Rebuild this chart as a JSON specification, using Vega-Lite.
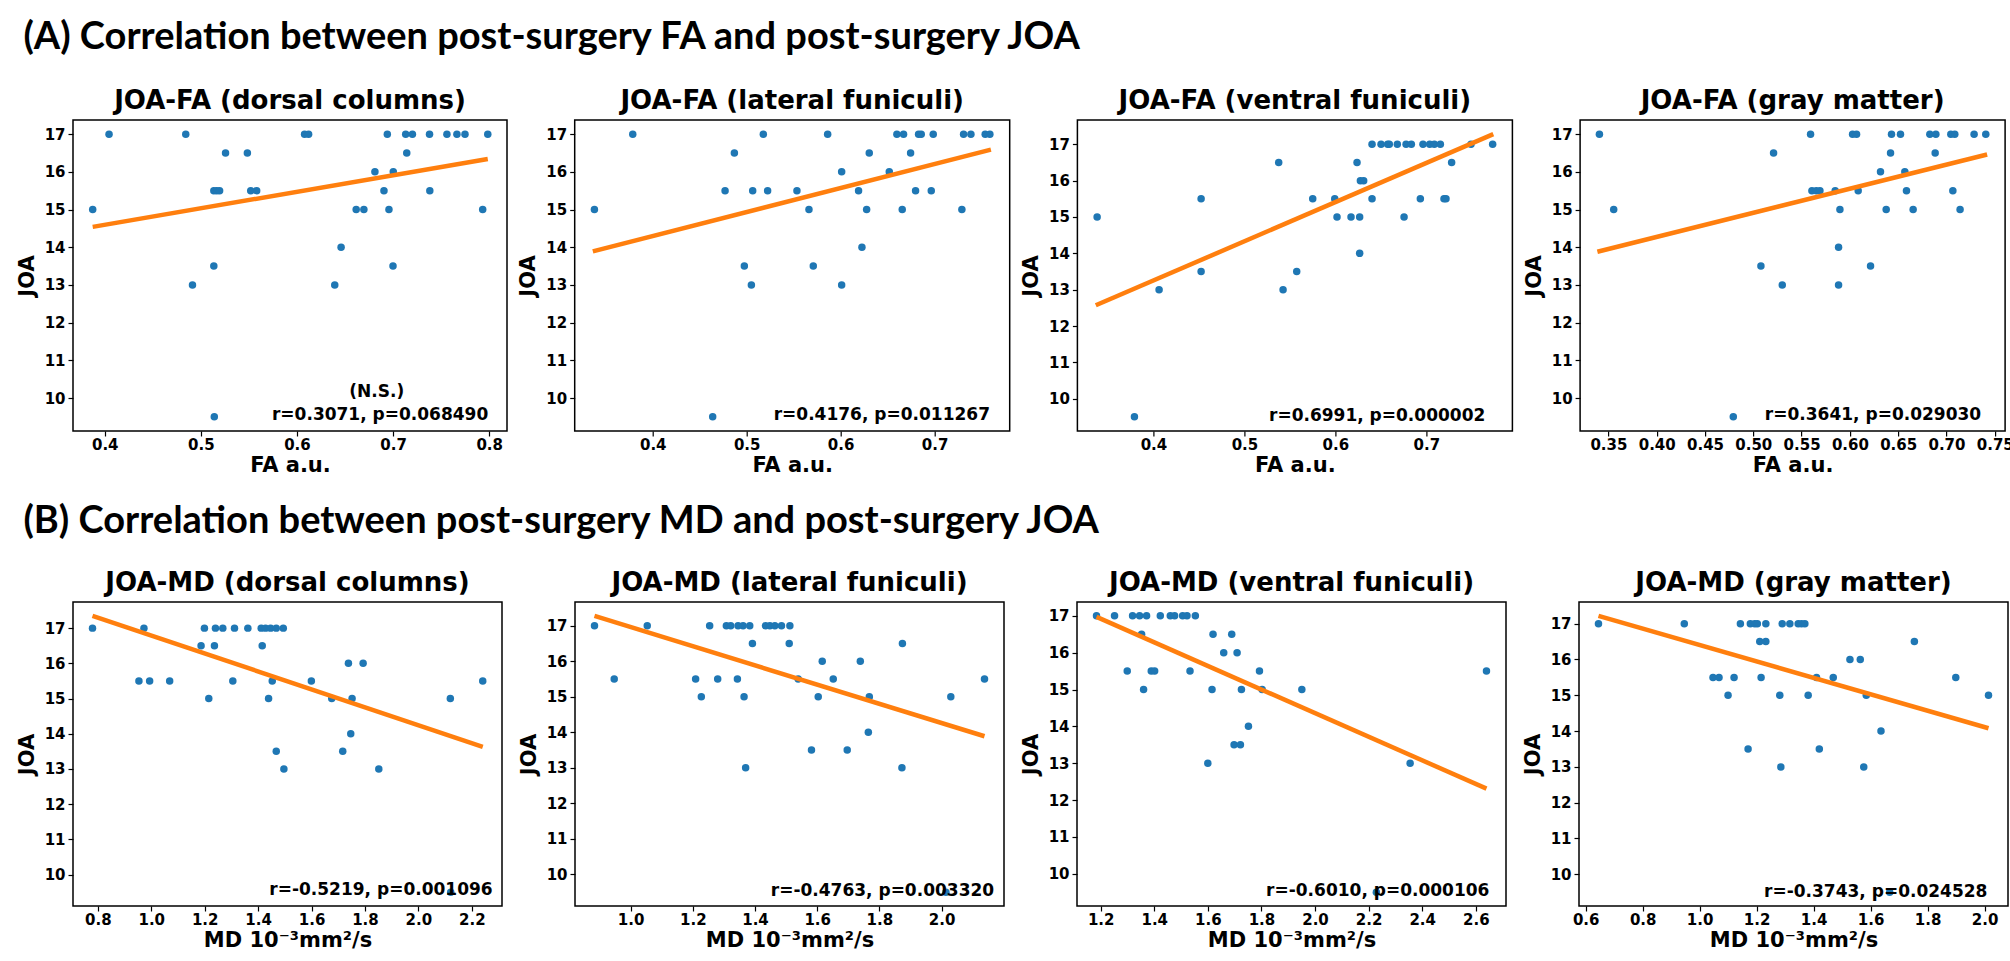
{
  "$schema": "https://vega.github.io/schema/vega-lite/v6.json",
  "background": "white",
  "padding": {"left": 15, "top": 19, "right": 0, "bottom": 0},
  "config": {
    "view": {"stroke": "black", "strokeWidth": 1.5},
    "title": {"font": "DejaVu Sans", "fontWeight": "bold", "fontSize": 26, "color": "black", "offset": 6},
    "axis": {"labelFont": "DejaVu Sans", "labelFontWeight": "bold", "labelFontSize": 15, "labelColor": "black", "titleFont": "DejaVu Sans", "titleFontWeight": "bold", "titleFontSize": 21, "titleColor": "black", "tickColor": "black", "tickSize": 5, "tickWidth": 1.2, "grid": false, "domain": false, "labelPadding": 2, "labelFlush": false, "labelOverlap": false},
    "axisY": {"titlePadding": 7, "labelPadding": 3},
    "axisX": {"titlePadding": 2, "labelPadding": 1},
    "circle": {"color": "#1f77b4", "size": 56, "opacity": 1},
    "line": {"color": "#ff7f0e", "strokeWidth": 4.5},
    "text": {"font": "DejaVu Sans", "fontWeight": "bold", "fontSize": 17, "color": "black"}
  },
  "spacing": 27,
  "vconcat": [
    {
      "title": {"text": "(A) Correlation between post-surgery FA and post-surgery JOA", "anchor": "start", "font": "Lato", "fontSize": 38, "fontWeight": "bold", "offset": 30, "dx": 8},
      "bounds": "flush",
      "spacing": 67.7,
      "hconcat": [
        {
          "width": 434, "height": 311,
          "title": "JOA-FA (dorsal columns)",
          "layer": [
            {"data": {"values": [
              {"fa":0.3875,"joa":15},{"fa":0.4045,"joa":17},{"fa":0.4843,"joa":17},{"fa":0.4913,"joa":13},{"fa":0.5135,"joa":15.5},{"fa":0.5165,"joa":15.5},{"fa":0.5195,"joa":15.5},{"fa":0.5135,"joa":13.5},{"fa":0.5257,"joa":16.5},{"fa":0.5484,"joa":16.5},{"fa":0.5519,"joa":15.5},{"fa":0.5581,"joa":15.5},{"fa":0.6079,"joa":17},{"fa":0.6121,"joa":17},{"fa":0.6393,"joa":13},{"fa":0.6459,"joa":14},{"fa":0.6616,"joa":15},{"fa":0.6696,"joa":15},{"fa":0.6811,"joa":16},{"fa":0.6905,"joa":15.5},{"fa":0.694,"joa":17},{"fa":0.6957,"joa":15},{"fa":0.7002,"joa":16},{"fa":0.6999,"joa":13.5},{"fa":0.7142,"joa":16.5},{"fa":0.7131,"joa":17},{"fa":0.7201,"joa":17},{"fa":0.7379,"joa":17},{"fa":0.7382,"joa":15.5},{"fa":0.756,"joa":17},{"fa":0.7664,"joa":17},{"fa":0.7748,"joa":17},{"fa":0.7932,"joa":15},{"fa":0.7985,"joa":17},{"fa":0.514,"joa":9.5}
            ]},
             "mark": "circle",
             "encoding": {
               "x": {"field": "fa", "type": "quantitative", "scale": {"domain": [0.367, 0.8185], "nice": false, "zero": false}, "axis": {"values": [0.4,0.5,0.6,0.7,0.8], "format": ".1f", "title": "FA a.u."}},
               "y": {"field": "joa", "type": "quantitative", "scale": {"domain": [9.125, 17.375], "nice": false, "zero": false}, "axis": {"values": [10,11,12,13,14,15,16,17], "title": "JOA"}}
             }},
            {"data": {"values": [{"fa":0.3875,"joa":14.54},{"fa":0.7985,"joa":16.34}]},
             "mark": "line",
             "encoding": {"x": {"field": "fa", "type": "quantitative"}, "y": {"field": "joa", "type": "quantitative"}}},
            {"data": {"values": [{"label": "r=0.3071, p=0.068490"}]},
             "mark": {"type": "text", "align": "right", "baseline": "middle"},
             "encoding": {"x": {"datum": 0.799, "type": "quantitative"}, "y": {"datum": 9.54, "type": "quantitative"}, "text": {"field": "label"}}},
            {"data": {"values": [{"label": "(N.S.)"}]},
             "mark": {"type": "text", "align": "center", "baseline": "middle"},
             "encoding": {"x": {"datum": 0.683, "type": "quantitative"}, "y": {"datum": 10.16, "type": "quantitative"}, "text": {"field": "label"}}}
          ]
        },
        {
          "width": 435, "height": 311,
          "title": "JOA-FA (lateral funiculi)",
          "layer": [
            {"data": {"values": [
              {"fa":0.3379,"joa":15},{"fa":0.3787,"joa":17},{"fa":0.477,"joa":15.5},{"fa":0.4869,"joa":16.5},{"fa":0.4975,"joa":13.5},{"fa":0.505,"joa":13},{"fa":0.5064,"joa":15.5},{"fa":0.5177,"joa":17},{"fa":0.5223,"joa":15.5},{"fa":0.5535,"joa":15.5},{"fa":0.5663,"joa":15},{"fa":0.5709,"joa":13.5},{"fa":0.5862,"joa":17},{"fa":0.6011,"joa":16},{"fa":0.6011,"joa":13},{"fa":0.6191,"joa":15.5},{"fa":0.6227,"joa":14},{"fa":0.6277,"joa":15},{"fa":0.6305,"joa":16.5},{"fa":0.6518,"joa":16},{"fa":0.6599,"joa":17},{"fa":0.667,"joa":17},{"fa":0.6656,"joa":15},{"fa":0.6745,"joa":16.5},{"fa":0.6798,"joa":15.5},{"fa":0.683,"joa":17},{"fa":0.6858,"joa":17},{"fa":0.6965,"joa":15.5},{"fa":0.6986,"joa":17},{"fa":0.7291,"joa":15},{"fa":0.7309,"joa":17},{"fa":0.7387,"joa":17},{"fa":0.7539,"joa":17},{"fa":0.7589,"joa":17},{"fa":0.4638,"joa":9.5}
            ]},
             "mark": "circle",
             "encoding": {
               "x": {"field": "fa", "type": "quantitative", "scale": {"domain": [0.3169, 0.78], "nice": false, "zero": false}, "axis": {"values": [0.4,0.5,0.6,0.7], "format": ".1f", "title": "FA a.u."}},
               "y": {"field": "joa", "type": "quantitative", "scale": {"domain": [9.125, 17.375], "nice": false, "zero": false}, "axis": {"values": [10,11,12,13,14,15,16,17], "title": "JOA"}}
             }},
            {"data": {"values": [{"fa":0.3362,"joa":13.89},{"fa":0.76,"joa":16.59}]},
             "mark": "line",
             "encoding": {"x": {"field": "fa", "type": "quantitative"}, "y": {"field": "joa", "type": "quantitative"}}},
            {"data": {"values": [{"label": "r=0.4176, p=0.011267"}]},
             "mark": {"type": "text", "align": "right", "baseline": "middle"},
             "encoding": {"x": {"datum": 0.759, "type": "quantitative"}, "y": {"datum": 9.54, "type": "quantitative"}, "text": {"field": "label"}}}
          ]
        },
        {
          "width": 435, "height": 311,
          "title": "JOA-FA (ventral funiculi)",
          "layer": [
            {"data": {"values": [
              {"fa":0.3381,"joa":15},{"fa":0.4062,"joa":13},{"fa":0.4524,"joa":15.5},{"fa":0.4524,"joa":13.5},{"fa":0.5377,"joa":16.5},{"fa":0.5425,"joa":13},{"fa":0.5575,"joa":13.5},{"fa":0.5751,"joa":15.5},{"fa":0.5993,"joa":15.5},{"fa":0.6018,"joa":15},{"fa":0.6172,"joa":15},{"fa":0.6238,"joa":16.5},{"fa":0.6267,"joa":15},{"fa":0.6267,"joa":14},{"fa":0.6275,"joa":16},{"fa":0.6311,"joa":16},{"fa":0.6403,"joa":17},{"fa":0.6403,"joa":15.5},{"fa":0.6502,"joa":17},{"fa":0.6575,"joa":17},{"fa":0.6593,"joa":17},{"fa":0.6681,"joa":17},{"fa":0.6755,"joa":15},{"fa":0.6777,"joa":17},{"fa":0.6835,"joa":17},{"fa":0.6934,"joa":15.5},{"fa":0.6963,"joa":17},{"fa":0.7037,"joa":17},{"fa":0.7088,"joa":17},{"fa":0.7154,"joa":17},{"fa":0.7194,"joa":15.5},{"fa":0.7216,"joa":15.5},{"fa":0.7278,"joa":16.5},{"fa":0.7491,"joa":17},{"fa":0.7729,"joa":17},{"fa":0.3791,"joa":9.5}
            ]},
             "mark": "circle",
             "encoding": {
               "x": {"field": "fa", "type": "quantitative", "scale": {"domain": [0.3164, 0.7946], "nice": false, "zero": false}, "axis": {"values": [0.4,0.5,0.6,0.7], "format": ".1f", "title": "FA a.u."}},
               "y": {"field": "joa", "type": "quantitative", "scale": {"domain": [9.111, 17.669], "nice": false, "zero": false}, "axis": {"values": [10,11,12,13,14,15,16,17], "title": "JOA"}}
             }},
            {"data": {"values": [{"fa":0.3366,"joa":12.57},{"fa":0.7736,"joa":17.28}]},
             "mark": "line",
             "encoding": {"x": {"field": "fa", "type": "quantitative"}, "y": {"field": "joa", "type": "quantitative"}}},
            {"data": {"values": [{"label": "r=0.6991, p=0.000002"}]},
             "mark": {"type": "text", "align": "right", "baseline": "middle"},
             "encoding": {"x": {"datum": 0.7648, "type": "quantitative"}, "y": {"datum": 9.53, "type": "quantitative"}, "text": {"field": "label"}}}
          ]
        },
        {
          "width": 425, "height": 311,
          "title": "JOA-FA (gray matter)",
          "layer": [
            {"data": {"values": [
              {"fa":0.3407,"joa":17},{"fa":0.3555,"joa":15},{"fa":0.5079,"joa":13.5},{"fa":0.521,"joa":16.5},{"fa":0.53,"joa":13},{"fa":0.5593,"joa":17},{"fa":0.5607,"joa":15.5},{"fa":0.5652,"joa":15.5},{"fa":0.569,"joa":15.5},{"fa":0.5848,"joa":15.5},{"fa":0.5883,"joa":14},{"fa":0.5883,"joa":13},{"fa":0.5897,"joa":15},{"fa":0.6028,"joa":17},{"fa":0.6069,"joa":17},{"fa":0.6086,"joa":15.5},{"fa":0.6214,"joa":13.5},{"fa":0.6317,"joa":16},{"fa":0.6376,"joa":15},{"fa":0.6421,"joa":16.5},{"fa":0.6431,"joa":17},{"fa":0.6524,"joa":17},{"fa":0.6569,"joa":16},{"fa":0.6586,"joa":15.5},{"fa":0.6655,"joa":15},{"fa":0.6828,"joa":17},{"fa":0.689,"joa":17},{"fa":0.6883,"joa":16.5},{"fa":0.7045,"joa":17},{"fa":0.7086,"joa":17},{"fa":0.7066,"joa":15.5},{"fa":0.7141,"joa":15},{"fa":0.7286,"joa":17},{"fa":0.7407,"joa":17},{"fa":0.4793,"joa":9.5}
            ]},
             "mark": "circle",
             "encoding": {
               "x": {"field": "fa", "type": "quantitative", "scale": {"domain": [0.3207, 0.7607], "nice": false, "zero": false}, "axis": {"values": [0.35,0.4,0.45,0.5,0.55,0.6,0.65,0.7,0.75], "format": ".2f", "title": "FA a.u."}},
               "y": {"field": "joa", "type": "quantitative", "scale": {"domain": [9.125, 17.375], "nice": false, "zero": false}, "axis": {"values": [10,11,12,13,14,15,16,17], "title": "JOA"}}
             }},
            {"data": {"values": [{"fa":0.3386,"joa":13.88},{"fa":0.7421,"joa":16.46}]},
             "mark": "line",
             "encoding": {"x": {"field": "fa", "type": "quantitative"}, "y": {"field": "joa", "type": "quantitative"}}},
            {"data": {"values": [{"label": "r=0.3641, p=0.029030"}]},
             "mark": {"type": "text", "align": "right", "baseline": "middle"},
             "encoding": {"x": {"datum": 0.7359, "type": "quantitative"}, "y": {"datum": 9.54, "type": "quantitative"}, "text": {"field": "label"}}}
          ]
        }
      ]
    },
    {
      "title": {"text": "(B) Correlation between post-surgery MD and post-surgery JOA", "anchor": "start", "font": "Lato", "fontSize": 38, "fontWeight": "bold", "offset": 28, "dx": 8},
      "bounds": "flush",
      "spacing": 73,
      "hconcat": [
        {
          "width": 429, "height": 304,
          "title": "JOA-MD (dorsal columns)",
          "layer": [
            {"data": {"values": [
              {"md":0.78,"joa":17},{"md":0.9538,"joa":15.5},{"md":0.9726,"joa":17},{"md":0.9939,"joa":15.5},{"md":1.0689,"joa":15.5},{"md":1.1865,"joa":16.5},{"md":1.199,"joa":17},{"md":1.2153,"joa":15},{"md":1.2365,"joa":16.5},{"md":1.2403,"joa":17},{"md":1.2678,"joa":17},{"md":1.3053,"joa":15.5},{"md":1.3116,"joa":17},{"md":1.3616,"joa":17},{"md":1.4116,"joa":17},{"md":1.4154,"joa":16.5},{"md":1.4279,"joa":17},{"md":1.4392,"joa":15},{"md":1.4467,"joa":17},{"md":1.4529,"joa":15.5},{"md":1.4679,"joa":17},{"md":1.4942,"joa":17},{"md":1.4679,"joa":13.5},{"md":1.4965,"joa":13},{"md":1.5993,"joa":15.5},{"md":1.6756,"joa":15},{"md":1.7168,"joa":13.5},{"md":1.7381,"joa":16},{"md":1.7468,"joa":14},{"md":1.7518,"joa":15},{"md":1.7931,"joa":16},{"md":1.8518,"joa":13},{"md":2.1196,"joa":15},{"md":2.2409,"joa":15.5},{"md":2.121,"joa":9.5}
            ]},
             "mark": "circle",
             "encoding": {
               "x": {"field": "md", "type": "quantitative", "scale": {"domain": [0.707, 2.313], "nice": false, "zero": false}, "axis": {"values": [0.8,1.0,1.2,1.4,1.6,1.8,2.0,2.2], "format": ".1f", "title": "MD 10⁻³mm²/s"}},
               "y": {"field": "joa", "type": "quantitative", "scale": {"domain": [9.108, 17.742], "nice": false, "zero": false}, "axis": {"values": [10,11,12,13,14,15,16,17], "title": "JOA"}}
             }},
            {"data": {"values": [{"md":0.78,"joa":17.35},{"md":2.241,"joa":13.63}]},
             "mark": "line",
             "encoding": {"x": {"field": "md", "type": "quantitative"}, "y": {"field": "joa", "type": "quantitative"}}},
            {"data": {"values": [{"label": "r=-0.5219, p=0.001096"}]},
             "mark": {"type": "text", "align": "right", "baseline": "middle"},
             "encoding": {"x": {"datum": 2.278, "type": "quantitative"}, "y": {"datum": 9.56, "type": "quantitative"}, "text": {"field": "label"}}}
          ]
        },
        {
          "width": 429, "height": 304,
          "title": "JOA-MD (lateral funiculi)",
          "layer": [
            {"data": {"values": [
              {"md":0.884,"joa":17},{"md":0.9474,"joa":15.5},{"md":1.0536,"joa":17},{"md":1.2092,"joa":15.5},{"md":1.2275,"joa":15},{"md":1.2543,"joa":17},{"md":1.2801,"joa":15.5},{"md":1.308,"joa":17},{"md":1.322,"joa":17},{"md":1.3456,"joa":17},{"md":1.3617,"joa":17},{"md":1.3832,"joa":17},{"md":1.3435,"joa":15.5},{"md":1.3649,"joa":15},{"md":1.3918,"joa":16.5},{"md":1.37,"joa":13},{"md":1.4338,"joa":17},{"md":1.4478,"joa":17},{"md":1.4639,"joa":17},{"md":1.4853,"joa":17},{"md":1.5122,"joa":17},{"md":1.5101,"joa":16.5},{"md":1.539,"joa":15.5},{"md":1.5817,"joa":13.5},{"md":1.6034,"joa":15},{"md":1.6163,"joa":16},{"md":1.6517,"joa":15.5},{"md":1.6966,"joa":13.5},{"md":1.7387,"joa":16},{"md":1.7645,"joa":14},{"md":1.7677,"joa":15},{"md":1.8741,"joa":16.5},{"md":1.8725,"joa":13},{"md":2.0297,"joa":15},{"md":2.138,"joa":15.5},{"md":2.014,"joa":9.5}
            ]},
             "mark": "circle",
             "encoding": {
               "x": {"field": "md", "type": "quantitative", "scale": {"domain": [0.8213, 2.2007], "nice": false, "zero": false}, "axis": {"values": [1.0,1.2,1.4,1.6,1.8,2.0], "format": ".1f", "title": "MD 10⁻³mm²/s"}},
               "y": {"field": "joa", "type": "quantitative", "scale": {"domain": [9.11, 17.67], "nice": false, "zero": false}, "axis": {"values": [10,11,12,13,14,15,16,17], "title": "JOA"}}
             }},
            {"data": {"values": [{"md":0.884,"joa":17.28},{"md":2.138,"joa":13.89}]},
             "mark": "line",
             "encoding": {"x": {"field": "md", "type": "quantitative"}, "y": {"field": "joa", "type": "quantitative"}}},
            {"data": {"values": [{"label": "r=-0.4763, p=0.003320"}]},
             "mark": {"type": "text", "align": "right", "baseline": "middle"},
             "encoding": {"x": {"datum": 2.169, "type": "quantitative"}, "y": {"datum": 9.53, "type": "quantitative"}, "text": {"field": "label"}}}
          ]
        },
        {
          "width": 429, "height": 304,
          "title": "JOA-MD (ventral funiculi)",
          "layer": [
            {"data": {"values": [
              {"md":1.1845,"joa":17},{"md":1.2518,"joa":17},{"md":1.3191,"joa":17},{"md":1.3453,"joa":17},{"md":1.3714,"joa":17},{"md":1.4226,"joa":17},{"md":1.4599,"joa":17},{"md":1.4761,"joa":17},{"md":1.506,"joa":17},{"md":1.5222,"joa":17},{"md":1.5534,"joa":17},{"md":1.3528,"joa":16.5},{"md":1.2992,"joa":15.5},{"md":1.3889,"joa":15.5},{"md":1.4014,"joa":15.5},{"md":1.3602,"joa":15},{"md":1.5335,"joa":15.5},{"md":1.6157,"joa":15},{"md":1.6194,"joa":16.5},{"md":1.6593,"joa":16},{"md":1.6892,"joa":16.5},{"md":1.7092,"joa":16},{"md":1.7254,"joa":15},{"md":1.7927,"joa":15.5},{"md":1.8027,"joa":15},{"md":1.9509,"joa":15},{"md":1.7516,"joa":14},{"md":1.6979,"joa":13.5},{"md":1.7216,"joa":13.5},{"md":1.6,"joa":13},{"md":2.355,"joa":13},{"md":2.6399,"joa":15.5},{"md":2.229,"joa":9.5}
            ]},
             "mark": "circle",
             "encoding": {
               "x": {"field": "md", "type": "quantitative", "scale": {"domain": [1.1117, 2.7128], "nice": false, "zero": false}, "axis": {"values": [1.2,1.4,1.6,1.8,2.0,2.2,2.4,2.6], "format": ".1f", "title": "MD 10⁻³mm²/s"}},
               "y": {"field": "joa", "type": "quantitative", "scale": {"domain": [9.125, 17.375], "nice": false, "zero": false}, "axis": {"values": [10,11,12,13,14,15,16,17], "title": "JOA"}}
             }},
            {"data": {"values": [{"md":1.1845,"joa":16.97},{"md":2.64,"joa":12.31}]},
             "mark": "line",
             "encoding": {"x": {"field": "md", "type": "quantitative"}, "y": {"field": "joa", "type": "quantitative"}}},
            {"data": {"values": [{"label": "r=-0.6010, p=0.000106"}]},
             "mark": {"type": "text", "align": "right", "baseline": "middle"},
             "encoding": {"x": {"datum": 2.651, "type": "quantitative"}, "y": {"datum": 9.52, "type": "quantitative"}, "text": {"field": "label"}}}
          ]
        },
        {
          "width": 429, "height": 304,
          "title": "JOA-MD (gray matter)",
          "layer": [
            {"data": {"values": [
              {"md":0.6449,"joa":17},{"md":0.9461,"joa":17},{"md":1.143,"joa":17},{"md":1.1779,"joa":17},{"md":1.1932,"joa":17},{"md":1.2025,"joa":17},{"md":1.2323,"joa":17},{"md":1.2897,"joa":17},{"md":1.3166,"joa":17},{"md":1.3458,"joa":17},{"md":1.3575,"joa":17},{"md":1.3693,"joa":17},{"md":1.211,"joa":16.5},{"md":1.2323,"joa":16.5},{"md":1.0469,"joa":15.5},{"md":1.068,"joa":15.5},{"md":1.1208,"joa":15.5},{"md":1.0997,"joa":15},{"md":1.2157,"joa":15.5},{"md":1.2813,"joa":15},{"md":1.3809,"joa":15},{"md":1.4103,"joa":15.5},{"md":1.4689,"joa":15.5},{"md":1.5275,"joa":16},{"md":1.5638,"joa":16},{"md":1.5849,"joa":15},{"md":1.6365,"joa":14},{"md":1.17,"joa":13.5},{"md":1.42,"joa":13.5},{"md":1.285,"joa":13},{"md":1.576,"joa":13},{"md":1.7537,"joa":16.5},{"md":1.899,"joa":15.5},{"md":2.0139,"joa":15},{"md":1.667,"joa":9.5}
            ]},
             "mark": "circle",
             "encoding": {
               "x": {"field": "md", "type": "quantitative", "scale": {"domain": [0.5765, 2.0823], "nice": false, "zero": false}, "axis": {"values": [0.6,0.8,1.0,1.2,1.4,1.6,1.8,2.0], "format": ".1f", "title": "MD 10⁻³mm²/s"}},
               "y": {"field": "joa", "type": "quantitative", "scale": {"domain": [9.114, 17.606], "nice": false, "zero": false}, "axis": {"values": [10,11,12,13,14,15,16,17], "title": "JOA"}}
             }},
            {"data": {"values": [{"md":0.6449,"joa":17.22},{"md":2.0139,"joa":14.08}]},
             "mark": "line",
             "encoding": {"x": {"field": "md", "type": "quantitative"}, "y": {"field": "joa", "type": "quantitative"}}},
            {"data": {"values": [{"label": "r=-0.3743, p=0.024528"}]},
             "mark": {"type": "text", "align": "right", "baseline": "middle"},
             "encoding": {"x": {"datum": 2.010, "type": "quantitative"}, "y": {"datum": 9.51, "type": "quantitative"}, "text": {"field": "label"}}}
          ]
        }
      ]
    }
  ]
}
